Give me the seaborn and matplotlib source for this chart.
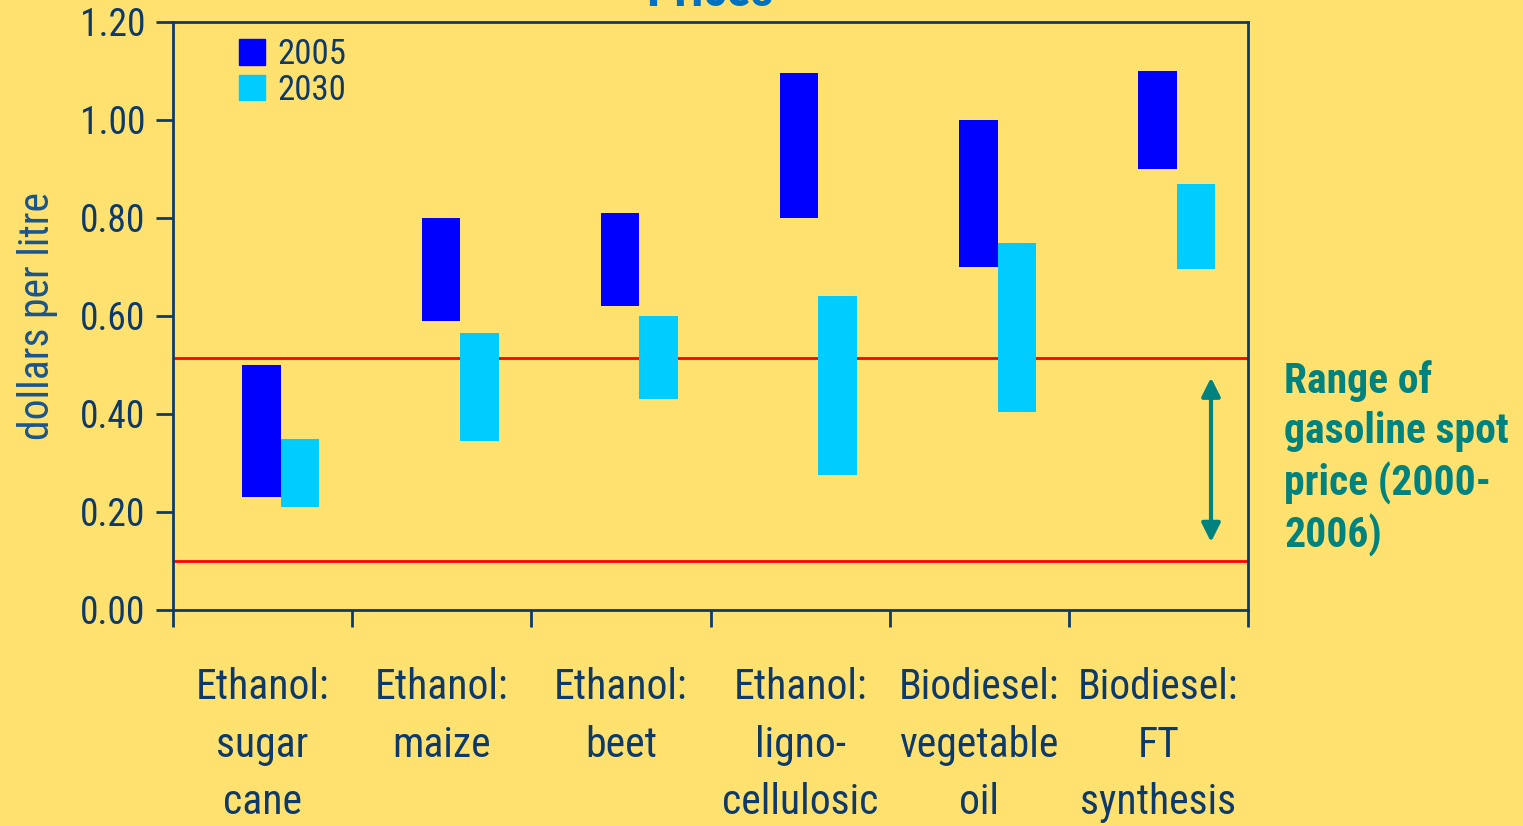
import matplotlib
matplotlib.use("Agg")
import matplotlib.pyplot as plt
import seaborn as sns
import numpy as np
from matplotlib.patches import Patch

categories = ["Ethanol:\nsugar\ncane", "Ethanol:\nmaize", "Ethanol:\nbeet",
              "Ethanol:\nligno-\ncellulosic", "Biodiesel:\nvegetable\noil",
              "Biodiesel:\nFT\nsynthesis"]
low_2005 = [0.23, 0.59, 0.62, 0.80, 0.70, 0.90]
high_2005 = [0.50, 0.80, 0.81, 1.095, 1.00, 1.10]
low_2030 = [0.21, 0.345, 0.43, 0.275, 0.405, 0.695]
high_2030 = [0.35, 0.565, 0.60, 0.64, 0.75, 0.87]
gasoline_range = [0.10, 0.515]
yticks = [0.0, 0.2, 0.4, 0.6, 0.8, 1.0, 1.2]

BG = "#FFE16F"
NAVY = "#0E3A6B"
TEAL = "#00827F"

sns.set_theme(style="ticks")
plt.rcParams["font.family"] = ["Roboto Condensed", "DejaVu Sans"]

fig = plt.figure(figsize=(15.23, 8.26), dpi=100, facecolor=BG)
ax = fig.add_axes([173/1523, 1 - 610/826, (1248-173)/1523, (610-22)/826])
ax.set_facecolor(BG)

x = np.arange(len(categories))
w = 0.215
h05 = np.array(high_2005) - np.array(low_2005)
h30 = np.array(high_2030) - np.array(low_2030)
ax.bar(x - 0.005, h05, bottom=low_2005, width=w, color="#0000FF", linewidth=0, label="2005", zorder=3)
ax.bar(x + 0.21, h30, bottom=low_2030, width=w, color="#00CCFF", linewidth=0, label="2030", zorder=3)

for v in gasoline_range:
    ax.axhline(v, color="#FF0000", lw=2, zorder=2)

ax.set_xlim(-0.5, len(categories) - 0.5)
ax.set_ylim(0, 1.2)
ax.set_yticks(yticks)
ax.set_yticklabels([f"{t:.2f}" for t in yticks], fontsize=27, color=NAVY)
ax.set_xticks(x)
ax.set_xticklabels(categories, fontsize=30, color=NAVY, linespacing=1.52)
ax.tick_params(axis="x", which="major", length=0, pad=41)
ax.set_xticks(np.arange(-0.5, len(categories)), minor=True)
ax.tick_params(axis="x", which="minor", length=12, width=2, color=NAVY)
ax.tick_params(axis="y", length=12, width=2, color=NAVY, pad=8)

for s in ax.spines.values():
    s.set_color(NAVY)
    s.set_linewidth(2)

ax.set_ylabel("dollars per litre", fontsize=30, color="#1A5590", labelpad=16)

handles = [Patch(color="#0000FF", label="2005"), Patch(color="#00CCFF", label="2030")]
leg = ax.legend(handles=handles, loc="upper left", bbox_to_anchor=(0.036, 1.02),
                frameon=False, fontsize=25, handlelength=0.74, handleheight=0.74,
                handletextpad=0.35, labelspacing=0.08, borderaxespad=0.4)
for t in leg.get_texts():
    t.set_color(NAVY)

xa = 5.5 - (1248 - 1211) / 179.2
ax.annotate("", xy=(xa, 0.133), xytext=(xa, 0.48),
            arrowprops=dict(arrowstyle="<|-|>", color=TEAL, lw=3, mutation_scale=28),
            annotation_clip=False)
fig.text(1284/1523, 1 - 360/826, "Range of\ngasoline spot\nprice (2000-\n2006)",
         fontsize=30, color=TEAL, fontweight="bold", va="top", ha="left", linespacing=1.28)

fig.text(710/1523, 1 - 6/826, "Prices", fontsize=36, color="#0070C0", fontweight="bold",
         ha="center", va="baseline")

fig.savefig("out.png", dpi=100, facecolor=BG)
